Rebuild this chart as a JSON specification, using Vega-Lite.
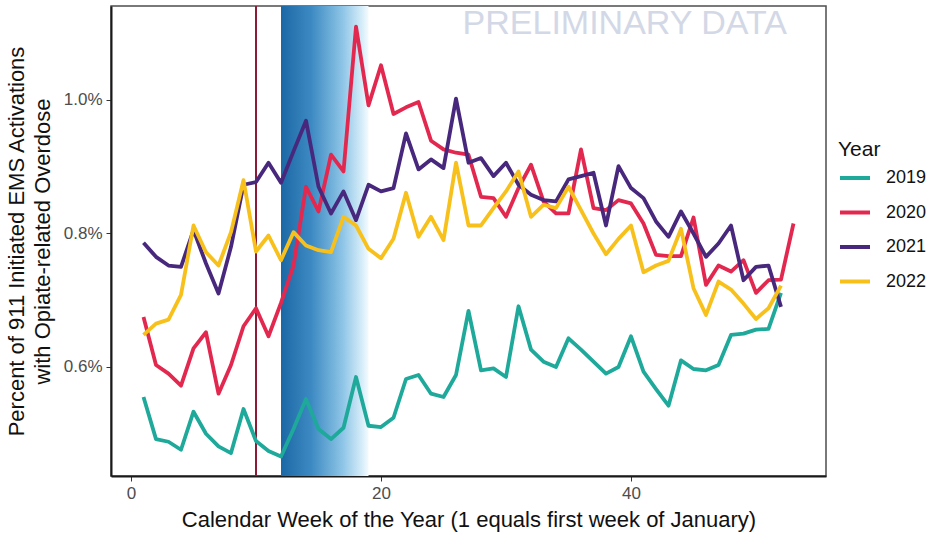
{
  "$schema": "https://vega.github.io/schema/vega-lite/v6.json",
  "width": 715,
  "height": 470,
  "autosize": {"type": "none"},
  "padding": {"left": 111, "top": 6, "right": 121, "bottom": 57},
  "background": "white",
  "config": {
    "font": "Liberation Sans",
    "view": {"stroke": "#4d4d4d", "strokeWidth": 1.5},
    "axis": {"grid": false}
  },
  "datasets": {
    "weekly": [
      {"week":1,"Year":"2019","pct":0.555},{"week":2,"Year":"2019","pct":0.492},{"week":3,"Year":"2019","pct":0.488},{"week":4,"Year":"2019","pct":0.476},{"week":5,"Year":"2019","pct":0.533},{"week":6,"Year":"2019","pct":0.500},{"week":7,"Year":"2019","pct":0.481},{"week":8,"Year":"2019","pct":0.471},{"week":9,"Year":"2019","pct":0.537},{"week":10,"Year":"2019","pct":0.489},
      {"week":11,"Year":"2019","pct":0.474},{"week":12,"Year":"2019","pct":0.466},{"week":13,"Year":"2019","pct":0.507},{"week":14,"Year":"2019","pct":0.552},{"week":15,"Year":"2019","pct":0.507},{"week":16,"Year":"2019","pct":0.492},{"week":17,"Year":"2019","pct":0.509},{"week":18,"Year":"2019","pct":0.585},{"week":19,"Year":"2019","pct":0.512},{"week":20,"Year":"2019","pct":0.510},
      {"week":21,"Year":"2019","pct":0.524},{"week":22,"Year":"2019","pct":0.582},{"week":23,"Year":"2019","pct":0.588},{"week":24,"Year":"2019","pct":0.560},{"week":25,"Year":"2019","pct":0.555},{"week":26,"Year":"2019","pct":0.588},{"week":27,"Year":"2019","pct":0.684},{"week":28,"Year":"2019","pct":0.595},{"week":29,"Year":"2019","pct":0.598},{"week":30,"Year":"2019","pct":0.585},
      {"week":31,"Year":"2019","pct":0.691},{"week":32,"Year":"2019","pct":0.626},{"week":33,"Year":"2019","pct":0.608},{"week":34,"Year":"2019","pct":0.600},{"week":35,"Year":"2019","pct":0.643},{"week":36,"Year":"2019","pct":0.626},{"week":37,"Year":"2019","pct":0.608},{"week":38,"Year":"2019","pct":0.590},{"week":39,"Year":"2019","pct":0.600},{"week":40,"Year":"2019","pct":0.646},
      {"week":41,"Year":"2019","pct":0.593},{"week":42,"Year":"2019","pct":0.567},{"week":43,"Year":"2019","pct":0.542},{"week":44,"Year":"2019","pct":0.610},{"week":45,"Year":"2019","pct":0.597},{"week":46,"Year":"2019","pct":0.595},{"week":47,"Year":"2019","pct":0.603},{"week":48,"Year":"2019","pct":0.648},{"week":49,"Year":"2019","pct":0.650},{"week":50,"Year":"2019","pct":0.656},{"week":51,"Year":"2019","pct":0.657},{"week":52,"Year":"2019","pct":0.711},

      {"week":1,"Year":"2020","pct":0.675},{"week":2,"Year":"2020","pct":0.603},{"week":3,"Year":"2020","pct":0.590},{"week":4,"Year":"2020","pct":0.572},{"week":5,"Year":"2020","pct":0.628},{"week":6,"Year":"2020","pct":0.652},{"week":7,"Year":"2020","pct":0.560},{"week":8,"Year":"2020","pct":0.603},{"week":9,"Year":"2020","pct":0.661},{"week":10,"Year":"2020","pct":0.688},
      {"week":11,"Year":"2020","pct":0.646},{"week":12,"Year":"2020","pct":0.696},{"week":13,"Year":"2020","pct":0.752},{"week":14,"Year":"2020","pct":0.870},{"week":15,"Year":"2020","pct":0.833},{"week":16,"Year":"2020","pct":0.918},{"week":17,"Year":"2020","pct":0.893},{"week":18,"Year":"2020","pct":1.110},{"week":19,"Year":"2020","pct":0.992},{"week":20,"Year":"2020","pct":1.052},
      {"week":21,"Year":"2020","pct":0.979},{"week":22,"Year":"2020","pct":0.989},{"week":23,"Year":"2020","pct":0.997},{"week":24,"Year":"2020","pct":0.939},{"week":25,"Year":"2020","pct":0.926},{"week":26,"Year":"2020","pct":0.921},{"week":27,"Year":"2020","pct":0.918},{"week":28,"Year":"2020","pct":0.855},{"week":29,"Year":"2020","pct":0.853},{"week":30,"Year":"2020","pct":0.825},
      {"week":31,"Year":"2020","pct":0.868},{"week":32,"Year":"2020","pct":0.903},{"week":33,"Year":"2020","pct":0.848},{"week":34,"Year":"2020","pct":0.830},{"week":35,"Year":"2020","pct":0.830},{"week":36,"Year":"2020","pct":0.926},{"week":37,"Year":"2020","pct":0.838},{"week":38,"Year":"2020","pct":0.835},{"week":39,"Year":"2020","pct":0.850},{"week":40,"Year":"2020","pct":0.845},
      {"week":41,"Year":"2020","pct":0.815},{"week":42,"Year":"2020","pct":0.768},{"week":43,"Year":"2020","pct":0.766},{"week":44,"Year":"2020","pct":0.766},{"week":45,"Year":"2020","pct":0.824},{"week":46,"Year":"2020","pct":0.723},{"week":47,"Year":"2020","pct":0.752},{"week":48,"Year":"2020","pct":0.743},{"week":49,"Year":"2020","pct":0.760},{"week":50,"Year":"2020","pct":0.711},{"week":51,"Year":"2020","pct":0.730},{"week":52,"Year":"2020","pct":0.731},{"week":53,"Year":"2020","pct":0.815},

      {"week":1,"Year":"2021","pct":0.786},{"week":2,"Year":"2021","pct":0.765},{"week":3,"Year":"2021","pct":0.752},{"week":4,"Year":"2021","pct":0.750},{"week":5,"Year":"2021","pct":0.805},{"week":6,"Year":"2021","pct":0.755},{"week":7,"Year":"2021","pct":0.710},{"week":8,"Year":"2021","pct":0.780},{"week":9,"Year":"2021","pct":0.873},{"week":10,"Year":"2021","pct":0.877},
      {"week":11,"Year":"2021","pct":0.906},{"week":12,"Year":"2021","pct":0.876},{"week":13,"Year":"2021","pct":0.923},{"week":14,"Year":"2021","pct":0.969},{"week":15,"Year":"2021","pct":0.870},{"week":16,"Year":"2021","pct":0.830},{"week":17,"Year":"2021","pct":0.863},{"week":18,"Year":"2021","pct":0.820},{"week":19,"Year":"2021","pct":0.873},{"week":20,"Year":"2021","pct":0.863},
      {"week":21,"Year":"2021","pct":0.868},{"week":22,"Year":"2021","pct":0.950},{"week":23,"Year":"2021","pct":0.896},{"week":24,"Year":"2021","pct":0.911},{"week":25,"Year":"2021","pct":0.898},{"week":26,"Year":"2021","pct":1.002},{"week":27,"Year":"2021","pct":0.906},{"week":28,"Year":"2021","pct":0.913},{"week":29,"Year":"2021","pct":0.886},{"week":30,"Year":"2021","pct":0.906},
      {"week":31,"Year":"2021","pct":0.873},{"week":32,"Year":"2021","pct":0.858},{"week":33,"Year":"2021","pct":0.850},{"week":34,"Year":"2021","pct":0.848},{"week":35,"Year":"2021","pct":0.881},{"week":36,"Year":"2021","pct":0.886},{"week":37,"Year":"2021","pct":0.891},{"week":38,"Year":"2021","pct":0.812},{"week":39,"Year":"2021","pct":0.901},{"week":40,"Year":"2021","pct":0.868},
      {"week":41,"Year":"2021","pct":0.853},{"week":42,"Year":"2021","pct":0.818},{"week":43,"Year":"2021","pct":0.795},{"week":44,"Year":"2021","pct":0.833},{"week":45,"Year":"2021","pct":0.800},{"week":46,"Year":"2021","pct":0.765},{"week":47,"Year":"2021","pct":0.785},{"week":48,"Year":"2021","pct":0.812},{"week":49,"Year":"2021","pct":0.730},{"week":50,"Year":"2021","pct":0.750},{"week":51,"Year":"2021","pct":0.752},{"week":52,"Year":"2021","pct":0.690},

      {"week":1,"Year":"2022","pct":0.648},{"week":2,"Year":"2022","pct":0.665},{"week":3,"Year":"2022","pct":0.671},{"week":4,"Year":"2022","pct":0.708},{"week":5,"Year":"2022","pct":0.812},{"week":6,"Year":"2022","pct":0.772},{"week":7,"Year":"2022","pct":0.752},{"week":8,"Year":"2022","pct":0.802},{"week":9,"Year":"2022","pct":0.880},{"week":10,"Year":"2022","pct":0.773},
      {"week":11,"Year":"2022","pct":0.797},{"week":12,"Year":"2022","pct":0.760},{"week":13,"Year":"2022","pct":0.802},{"week":14,"Year":"2022","pct":0.782},{"week":15,"Year":"2022","pct":0.775},{"week":16,"Year":"2022","pct":0.772},{"week":17,"Year":"2022","pct":0.825},{"week":18,"Year":"2022","pct":0.812},{"week":19,"Year":"2022","pct":0.777},{"week":20,"Year":"2022","pct":0.763},
      {"week":21,"Year":"2022","pct":0.792},{"week":22,"Year":"2022","pct":0.861},{"week":23,"Year":"2022","pct":0.795},{"week":24,"Year":"2022","pct":0.825},{"week":25,"Year":"2022","pct":0.790},{"week":26,"Year":"2022","pct":0.906},{"week":27,"Year":"2022","pct":0.812},{"week":28,"Year":"2022","pct":0.812},{"week":29,"Year":"2022","pct":0.838},{"week":30,"Year":"2022","pct":0.863},
      {"week":31,"Year":"2022","pct":0.893},{"week":32,"Year":"2022","pct":0.825},{"week":33,"Year":"2022","pct":0.843},{"week":34,"Year":"2022","pct":0.838},{"week":35,"Year":"2022","pct":0.870},{"week":36,"Year":"2022","pct":0.835},{"week":37,"Year":"2022","pct":0.800},{"week":38,"Year":"2022","pct":0.769},{"week":39,"Year":"2022","pct":0.792},{"week":40,"Year":"2022","pct":0.812},
      {"week":41,"Year":"2022","pct":0.742},{"week":42,"Year":"2022","pct":0.752},{"week":43,"Year":"2022","pct":0.759},{"week":44,"Year":"2022","pct":0.807},{"week":45,"Year":"2022","pct":0.718},{"week":46,"Year":"2022","pct":0.678},{"week":47,"Year":"2022","pct":0.728},{"week":48,"Year":"2022","pct":0.716},{"week":49,"Year":"2022","pct":0.695},{"week":50,"Year":"2022","pct":0.672},{"week":51,"Year":"2022","pct":0.688},{"week":52,"Year":"2022","pct":0.722}
    ]
  },
  "layer": [
    {
      "data": {"values": [{}]},
      "mark": {
        "type": "rect",
        "fill": {
          "gradient": "linear",
          "x1": 0, "y1": 0, "x2": 1, "y2": 0,
          "stops": [
            {"offset": 0, "color": "#1b68a6"},
            {"offset": 0.35, "color": "#3d8ac3"},
            {"offset": 0.7, "color": "#8cc4e6"},
            {"offset": 0.92, "color": "#d4ecf8"},
            {"offset": 1, "color": "#f4fbfe"}
          ]
        }
      },
      "encoding": {
        "x": {"datum": 12, "type": "quantitative"},
        "x2": {"datum": 19}
      }
    },
    {
      "data": {"values": [{}]},
      "mark": {"type": "rule", "color": "#8e1b35", "strokeWidth": 2},
      "encoding": {
        "x": {"datum": 10, "type": "quantitative"}
      }
    },
    {
      "data": {"name": "weekly"},
      "mark": {"type": "line", "strokeWidth": 3.8, "strokeJoin": "round", "strokeCap": "butt"},
      "encoding": {
        "x": {
          "field": "week", "type": "quantitative",
          "scale": {"domain": [-1.6, 55.6], "nice": false, "zero": false},
          "axis": {
            "title": "Calendar Week of the Year (1 equals first week of January)",
            "values": [0, 20, 40],
            "labelFontSize": 17, "labelColor": "#4d4d4d", "labelPadding": 4,
            "tickSize": 5, "tickColor": "#333333", "tickWidth": 1,
            "domainColor": "#1a1a1a", "domainWidth": 2,
            "titleFontSize": 22, "titleFontWeight": "normal", "titleColor": "#111111", "titlePadding": 8
          }
        },
        "y": {
          "field": "pct", "type": "quantitative",
          "scale": {"domain": [0.4367, 1.1408], "nice": false, "zero": false},
          "axis": {
            "title": ["Percent of 911 Initiated EMS Activations", "with Opiate-related Overdose"],
            "values": [0.6, 0.8, 1.0],
            "labelExpr": "format(datum.value, '.1f') + '%'",
            "labelFontSize": 17, "labelColor": "#4d4d4d", "labelPadding": 4,
            "tickSize": 5, "tickColor": "#333333", "tickWidth": 1,
            "domainColor": "#1a1a1a", "domainWidth": 2,
            "titleFontSize": 22, "titleFontWeight": "normal", "titleColor": "#111111", "titlePadding": 9, "titleLineHeight": 26
          }
        },
        "color": {
          "field": "Year", "type": "nominal",
          "scale": {"domain": ["2019", "2020", "2021", "2022"], "range": ["#1ea99b", "#e3284f", "#48287d", "#f8c01b"]},
          "legend": {
            "orient": "none", "legendX": 727, "legendY": 133,
            "title": "Year", "titleFontSize": 21, "titleFontWeight": "normal", "titleColor": "#111111", "titlePadding": 1,
            "labelFontSize": 18, "labelColor": "#111111", "labelOffset": 14,
            "symbolType": "stroke", "symbolStrokeWidth": 4, "symbolSize": 900, "rowPadding": 8.5
          }
        }
      }
    },
    {
      "data": {"values": [{}]},
      "mark": {"type": "text", "text": "PRELIMINARY DATA", "fontSize": 34, "fontWeight": "normal", "fill": "#d3d8e6", "align": "center", "baseline": "alphabetic"},
      "encoding": {
        "x": {"datum": 39.5, "type": "quantitative"},
        "y": {"datum": 1.099, "type": "quantitative"}
      }
    }
  ]
}
